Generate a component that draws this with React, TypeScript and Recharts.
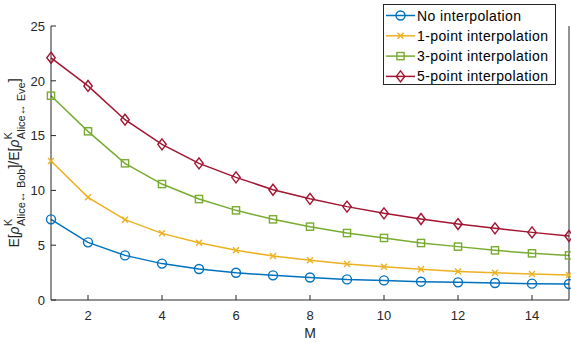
import { LineChart, Line, XAxis, YAxis, Legend } from 'recharts';

const mValues = [1, 2, 3, 4, 5, 6, 7, 8, 9, 10, 11, 12, 13, 14, 15];
const noInterp = [7.36, 5.26, 4.07, 3.32, 2.83, 2.49, 2.25, 2.05, 1.88, 1.79, 1.67, 1.61, 1.55, 1.49, 1.46];
const interp1 = [12.68, 9.37, 7.33, 6.08, 5.23, 4.53, 4.01, 3.63, 3.28, 3.04, 2.8, 2.61, 2.49, 2.37, 2.28];
const interp3 = [18.64, 15.39, 12.47, 10.58, 9.21, 8.18, 7.36, 6.69, 6.11, 5.66, 5.2, 4.87, 4.53, 4.26, 4.07];
const interp5 = [22.1, 19.53, 16.45, 14.2, 12.47, 11.19, 10.06, 9.23, 8.52, 7.91, 7.39, 6.93, 6.54, 6.17, 5.84];

const xTicks = [2, 4, 6, 8, 10, 12, 14];
const yTicks = [0, 5, 10, 15, 20, 25];

const seriesNames = ['No interpolation', '1-point interpolation', '3-point interpolation', '5-point interpolation'];
const seriesColors = ['#0072BD', '#EDB120', '#77AC30', '#A2142F'];
const seriesShapes = ['circle', 'cross', 'square', 'diamond'];

const data = mValues.map((m, i) => ({
  m,
  s0: noInterp[i],
  s1: interp1[i],
  s2: interp3[i],
  s3: interp5[i],
}));

const FONT = '"Liberation Sans", Arial, Helvetica, sans-serif';
const AXIS = '#262626';

function Marker({ shape, x, y, color }: { shape: string; x: number; y: number; color: string }) {
  if (shape === 'circle') {
    return <circle cx={x} cy={y} r={4.5} fill="none" stroke={color} strokeWidth={1.4} />;
  }
  if (shape === 'cross') {
    const s = 3;
    return (
      <path d={`M${x - s},${y - s}L${x + s},${y + s}M${x - s},${y + s}L${x + s},${y - s}`} stroke={color} strokeWidth={1.4} fill="none" />
    );
  }
  if (shape === 'square') {
    const s = 3.6;
    return <rect x={x - s} y={y - s} width={2 * s} height={2 * s} fill="none" stroke={color} strokeWidth={1.4} />;
  }
  const w = 4.2;
  const h = 5.5;
  return <path d={`M${x},${y - h}L${x + w},${y}L${x},${y + h}L${x - w},${y}Z`} fill="none" stroke={color} strokeWidth={1.4} />;
}

const makeDot = (shape: string, color: string) => (props: any) => {
  const { cx, cy, index } = props;
  return (
    <g key={`dot-${shape}-${index}`}>
      <Marker shape={shape} x={cx} y={cy} color={color} />
    </g>
  );
};

const BottomTick = (props: any) => {
  const { x, y, payload } = props;
  return (
    <g>
      <line x1={x} x2={x} y1={y} y2={y - 5} stroke={AXIS} strokeWidth={1} />
      <text x={x} y={y + 19.5} textAnchor="middle" fill={AXIS} fontSize={13} fontFamily={FONT}>
        {payload.value}
      </text>
    </g>
  );
};

const TopTick = (props: any) => {
  const { x, y } = props;
  return <line x1={x} x2={x} y1={y} y2={y + 5} stroke={AXIS} strokeWidth={1} />;
};

const LeftTick = (props: any) => {
  const { x, y, payload } = props;
  return (
    <g>
      <line x1={x} x2={x + 5} y1={y} y2={y} stroke={AXIS} strokeWidth={1} />
      <text x={x - 6} y={y + 4.7} textAnchor="end" fill={AXIS} fontSize={13} fontFamily={FONT}>
        {payload.value}
      </text>
    </g>
  );
};

const RightTick = (props: any) => {
  const { x, y } = props;
  return <line x1={x} x2={x - 5} y1={y} y2={y} stroke={AXIS} strokeWidth={1} />;
};

const YLabel = (props: any) => {
  const { viewBox } = props;
  const cx = viewBox.x + 19;
  const cy = viewBox.y + viewBox.height / 2;
  return (
    <text
      x={cx}
      y={cy}
      transform={`rotate(-90, ${cx}, ${cy})`}
      textAnchor="middle"
      fill={AXIS}
      fontSize={14}
      fontFamily={FONT}
    >
      <tspan>E[</tspan>
      <tspan fontStyle="italic">ρ</tspan>
      <tspan fontSize={11} dy={-7}>K</tspan>
      <tspan fontSize={11} dx={-7} dy={13}>Alice↔ Bob</tspan>
      <tspan dy={-6}>]/E[</tspan>
      <tspan fontStyle="italic">ρ</tspan>
      <tspan fontSize={11} dy={-7}>K</tspan>
      <tspan fontSize={11} dx={-7} dy={13}>Alice↔ Eve</tspan>
      <tspan dy={-6}>]</tspan>
    </text>
  );
};

const LegendBox = () => (
  <div
    style={{
      width: 173,
      height: 81,
      boxSizing: 'border-box',
      border: `1px solid ${AXIS}`,
      background: '#fff',
    }}
  >
    <svg width={171} height={79}>
      {seriesNames.map((name, i) => {
        const cy = 10.5 + i * 20.3;
        return (
          <g key={`leg-${i}`}>
            <line x1={2} x2={31} y1={cy} y2={cy} stroke={seriesColors[i]} strokeWidth={1.5} />
            <Marker shape={seriesShapes[i]} x={16.5} y={cy} color={seriesColors[i]} />
            <text x={33} y={cy + 5} fontSize={14} letterSpacing={0.4} fill="#000" fontFamily={FONT}>
              {name}
            </text>
          </g>
        );
      })}
    </svg>
  </div>
);

export default function App() {
  return (
    <div style={{ position: 'absolute', left: 0, top: 0, width: 571, height: 343, background: '#fff' }}>
      <LineChart width={571} height={343} data={data} margin={{ top: 26, right: 0, bottom: 0, left: 0 }}>
        <XAxis
          dataKey="m"
          type="number"
          domain={[1, 15]}
          ticks={xTicks}
          height={43}
          tickSize={0}
          tickMargin={0}
          tickLine={false}
          tick={BottomTick}
          stroke={AXIS}
          interval={0}
          label={{ value: 'M', position: 'insideBottom', offset: 5, fill: AXIS, fontSize: 14, fontFamily: FONT }}
        />
        <XAxis
          xAxisId="t"
          dataKey="m"
          type="number"
          orientation="top"
          domain={[1, 15]}
          ticks={xTicks}
          height={0}
          tickSize={0}
          tickMargin={0}
          tickLine={false}
          tick={TopTick}
          stroke={AXIS}
          interval={0}
        />
        <YAxis
          type="number"
          domain={[0, 25]}
          ticks={yTicks}
          width={51}
          tickSize={0}
          tickMargin={0}
          tickLine={false}
          tick={LeftTick}
          stroke={AXIS}
          interval={0}
          label={{ content: YLabel }}
        />
        <YAxis
          yAxisId="r"
          type="number"
          orientation="right"
          domain={[0, 25]}
          ticks={yTicks}
          width={2}
          tickSize={0}
          tickMargin={0}
          tickLine={false}
          tick={RightTick}
          stroke={AXIS}
          interval={0}
        />
        {seriesNames.map((name, i) => (
          <Line
            key={name}
            type="linear"
            dataKey={`s${i}`}
            name={name}
            stroke={seriesColors[i]}
            strokeWidth={1.5}
            dot={makeDot(seriesShapes[i], seriesColors[i])}
            activeDot={false}
            isAnimationActive={false}
          />
        ))}
        <Legend
          layout="vertical"
          align="center"
          verticalAlign="middle"
          content={LegendBox}
          wrapperStyle={{ left: 383, top: 4, width: 173, height: 81 }}
        />
      </LineChart>
    </div>
  );
}
